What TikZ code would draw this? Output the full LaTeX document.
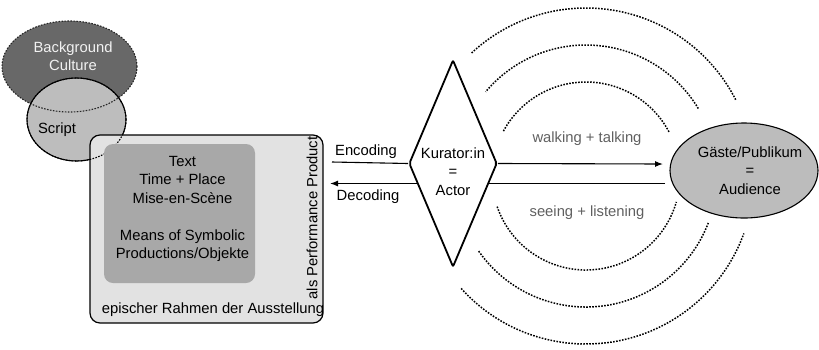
\documentclass[tikz,border=0pt]{standalone}
\usepackage{fontspec}
\setmainfont{Liberation Sans}
\usetikzlibrary{shapes.geometric,arrows.meta}
\definecolor{culturegray}{HTML}{686868}
\definecolor{scriptgray}{HTML}{BDBDBD}
\definecolor{framegray}{HTML}{E2E2E2}
\definecolor{innergray}{HTML}{A8A8A8}
\definecolor{audiencegray}{HTML}{BCBCBC}
\definecolor{labelgray}{HTML}{606060}
\begin{document}
\begin{tikzpicture}[x=1pt,y=1pt,
  every node/.style={font=\fontsize{14.8}{18.5}\selectfont, inner sep=0pt, align=center},
  dotline/.style={line width=1.5pt, dash pattern=on 1.6pt off 1.4pt},
  conn/.style={line width=1.1pt},
  tip/.style={-{Latex[length=8pt,width=6pt]}},
  softlabel/.style={text=labelgray}]
\useasboundingbox (0,0) rectangle (819,-349);

% Background culture and script circles
\node[ellipse, fill=culturegray, minimum width=135, minimum height=91] (culture) at (69.5,-66.5) {};
\node[ellipse, fill=scriptgray, draw, line width=1.1pt, minimum width=99, minimum height=83] (script) at (76.5,-119.5) {};
\draw[dotline, line width=1.1pt, black!85] (culture.center) ellipse[x radius=67.5, y radius=45.5];
\node[text=white!95!black] (culturetext) at (73,-56) {Background\\Culture};
\node (scripttext) at (57,-130) {Script};

% Epic frame of the exhibition
\node[rectangle, rounded corners=10pt, fill=framegray, draw, line width=1.2pt,
      minimum width=233, minimum height=188] (frame) at (206.5,-229) {};
\draw[dotline, line width=1.1pt] (script.center) ellipse[x radius=49.5, y radius=41.5];
\node[rectangle, rounded corners=9pt, fill=innergray, minimum width=151, minimum height=139] (inner) at (179.5,-213.5) {};
\node (innertext) at (182.5,-209) {Text\\Time + Place\\Mise-en-Scène\\[18.5pt]Means of Symbolic\\Productions/Objekte};
\node (frametext) at (213,-310) {epischer Rahmen der Ausstellung};
\node[rotate=90] (performance) at (312,-218) {als Performance Product};

% Dotted rings around the stage
\coordinate (ring) at (586,-176);
\draw[dotline] (ring) ++(28:94) arc[start angle=28, end angle=152, radius=94];
\draw[dotline] (ring) ++(31:131) arc[start angle=31, end angle=140, radius=131];
\draw[dotline] (ring) ++(27:168) arc[start angle=27, end angle=133, radius=168];
\draw[dotline] (ring) ++(199:94) arc[start angle=199, end angle=344, radius=94];
\draw[dotline] (ring) ++(215:131) arc[start angle=215, end angle=339, radius=131];
\draw[dotline] (ring) ++(222:168) arc[start angle=222, end angle=340, radius=168];

% Decoding line passes behind the actor
\coordinate (decR) at (665,-183.5);
\coordinate (decL) at (330,-183.5);
\draw[conn, tip] (decR) -- (decL);

% Curator as actor
\node[diamond, draw, fill=white, line width=1.8pt, rounded corners=2pt,
      minimum width=88, minimum height=207] (actor) at (453,-163.5) {};
\node (actortext) at (453,-171.5) {Kurator:in\\=\\Actor};

% Audience
\node[ellipse, fill=audiencegray, draw, line width=1.1pt, minimum width=148, minimum height=95] (audience) at (744,-170.5) {};
\node (audiencetext) at (750,-170.5) {Gäste/Publikum\\=\\Audience};

% Encoding and walking connectors
\coordinate (encL) at (332,-162);
\draw[conn] (encL) -- (actor.west);
\coordinate (walkR) at (663,-164);
\draw[conn, tip] (actor.east) -- (walkR);

% Connector labels
\node (enc) at (366,-152) {Encoding};
\node (dec) at (368,-197) {Decoding};
\node[softlabel] (walk) at (587,-139) {walking + talking};
\node[softlabel] (see) at (587,-213) {seeing + listening};
\end{tikzpicture}
\end{document}
